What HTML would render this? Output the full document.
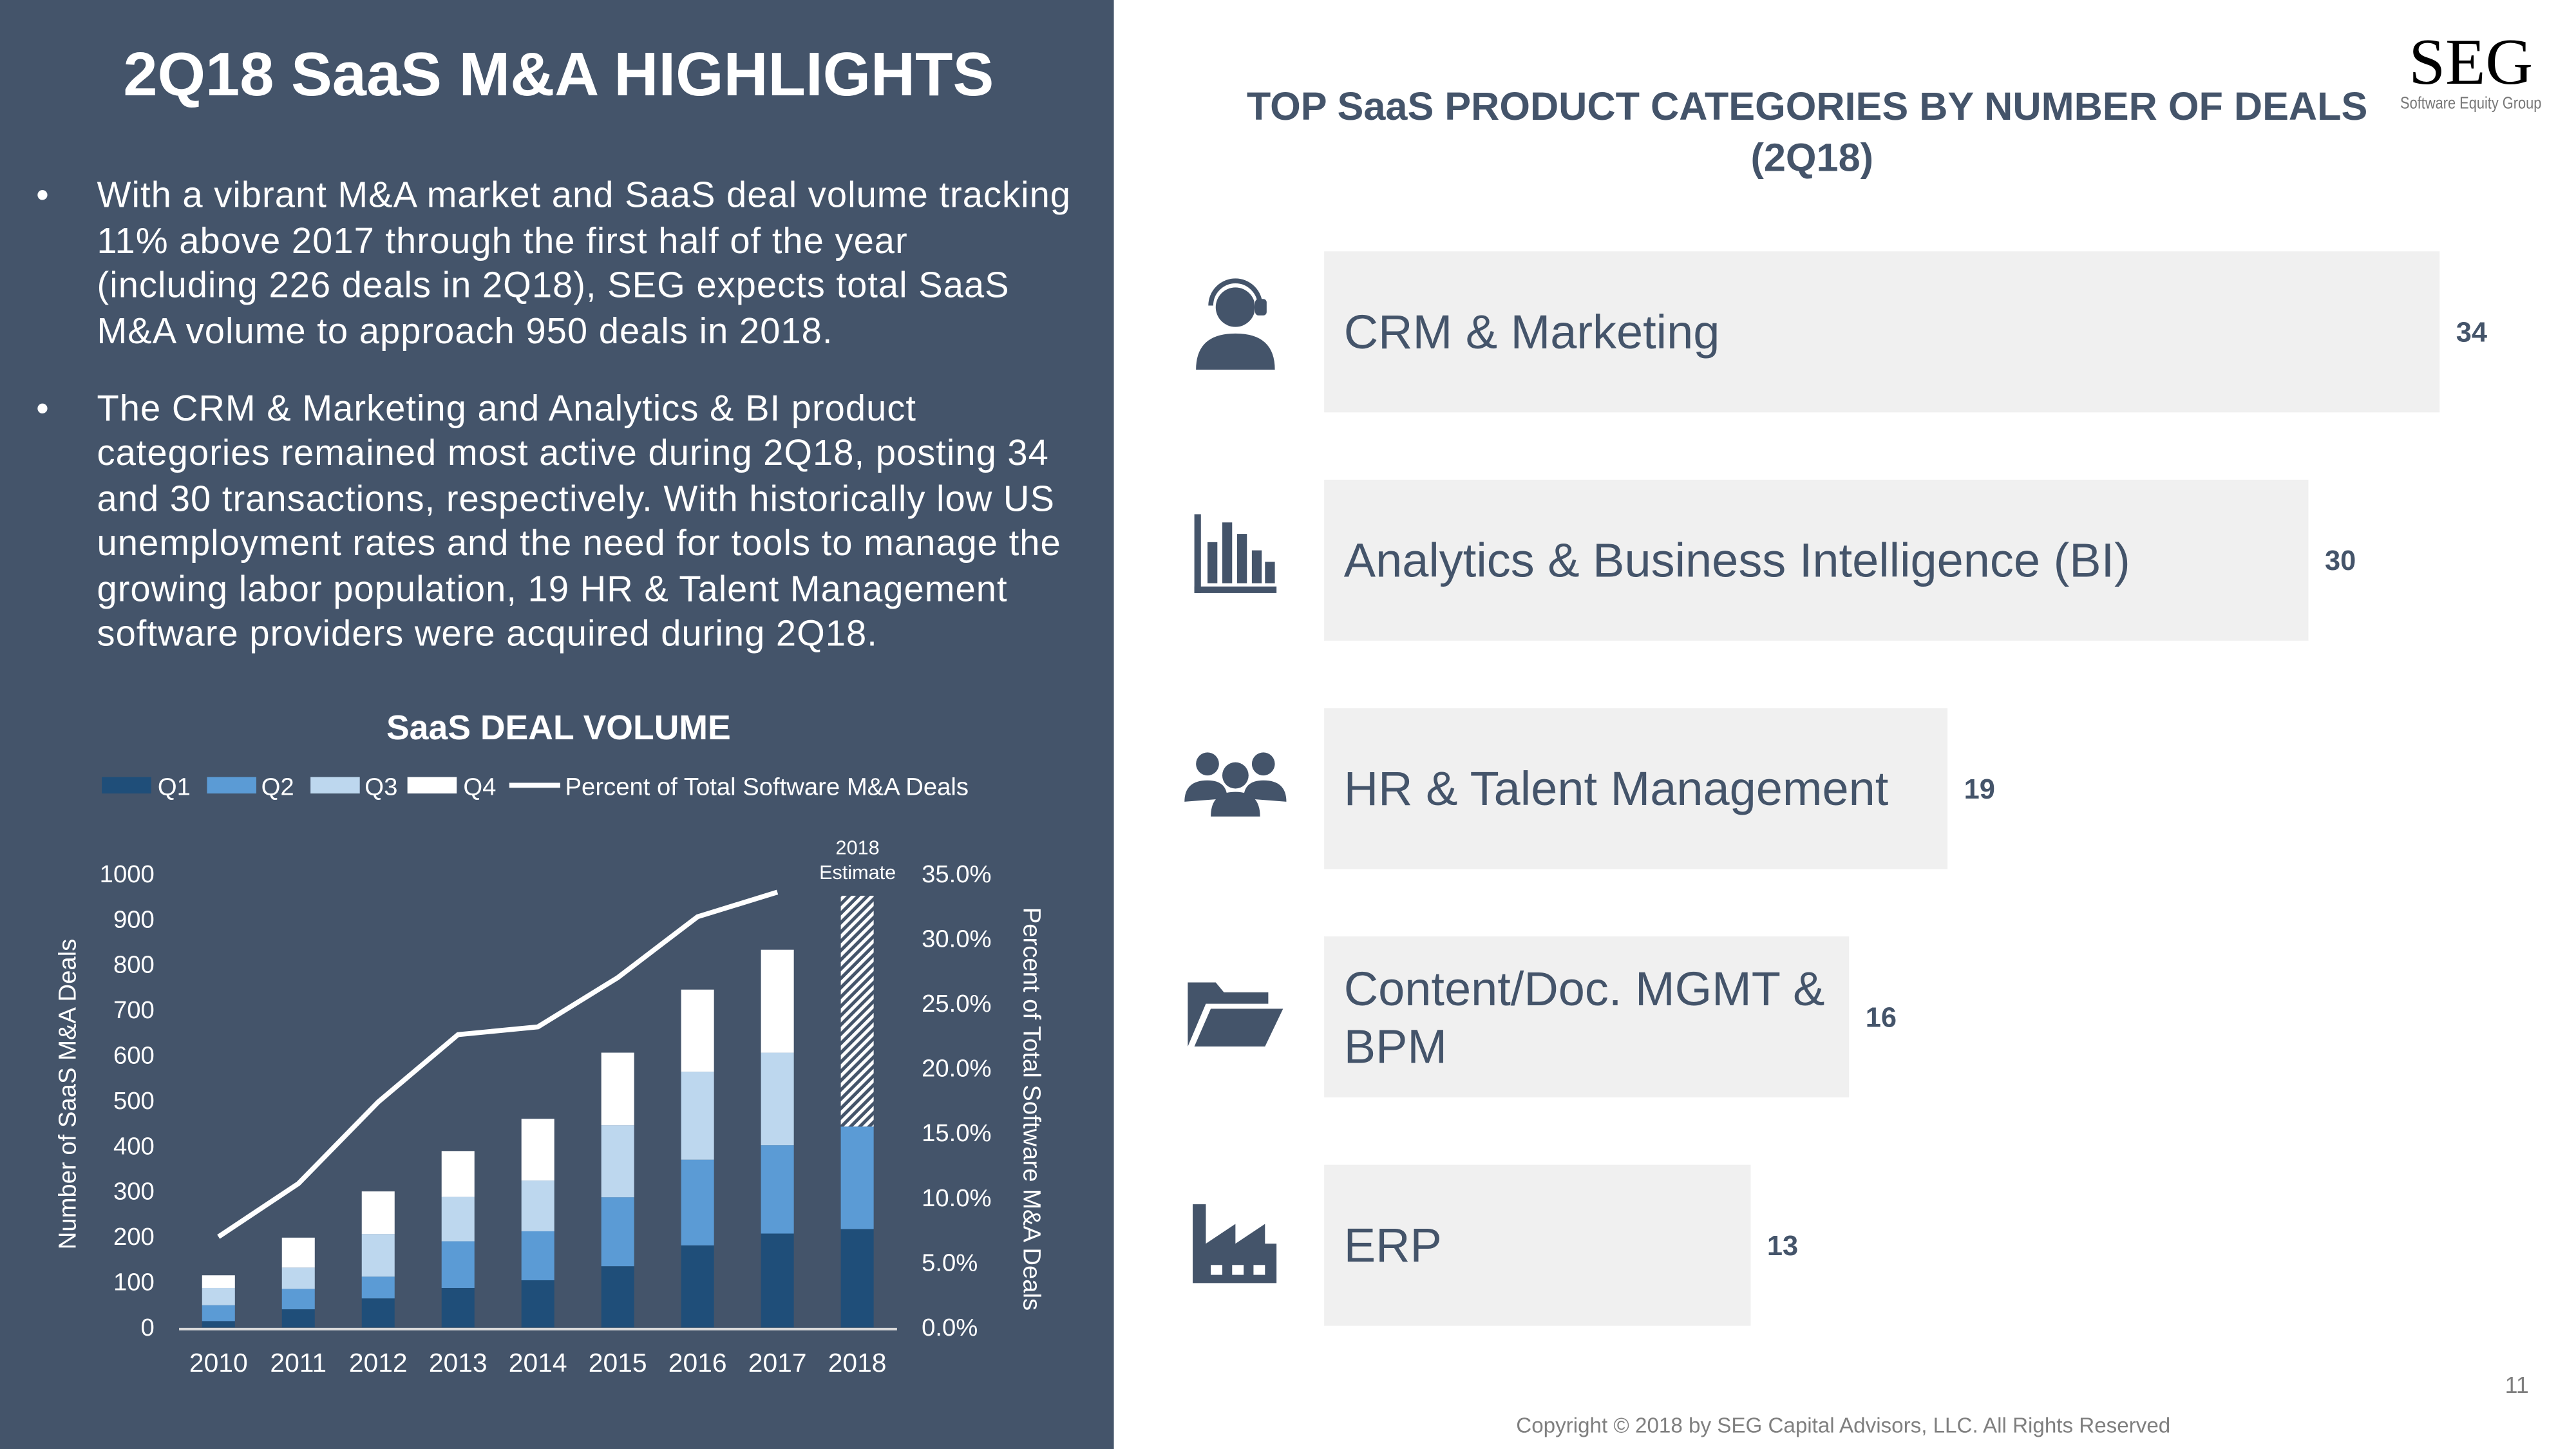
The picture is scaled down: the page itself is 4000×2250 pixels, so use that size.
<!DOCTYPE html>
<html><head><meta charset="utf-8"><style>
html,body{margin:0;padding:0;width:4000px;height:2250px;overflow:hidden;background:#fff}
svg{display:block}
text{font-family:"Liberation Sans",sans-serif}
</style></head><body>
<svg id="page" width="4000" height="2250" viewBox="0 0 1568 882" xmlns="http://www.w3.org/2000/svg">
<defs>
<pattern id="hatch" patternUnits="userSpaceOnUse" width="4" height="4" patternTransform="rotate(45)">
<rect width="4" height="4" fill="#44546a"/><rect width="2" height="4" fill="#fff"/>
</pattern>
</defs>
<rect x="0" y="0" width="678" height="882" fill="#44546a"/>
<text x="340" y="58" text-anchor="middle" fill="#fff" font-size="37.5" font-weight="bold">2Q18 SaaS M&amp;A HIGHLIGHTS</text>
<g fill="#fff" font-size="22" letter-spacing="0.4">
<text x="22" y="126">•</text>
<text x="59" y="126">With a vibrant M&amp;A market and SaaS deal volume tracking</text>
<text x="59" y="154">11% above 2017 through the first half of the year</text>
<text x="59" y="181">(including 226 deals in 2Q18), SEG expects total SaaS</text>
<text x="59" y="209">M&amp;A volume to approach 950 deals in 2018.</text>
<text x="22" y="256">•</text>
<text x="59" y="256">The CRM &amp; Marketing and Analytics &amp; BI product</text>
<text x="59" y="283">categories remained most active during 2Q18, posting 34</text>
<text x="59" y="311">and 30 transactions, respectively. With historically low US</text>
<text x="59" y="338">unemployment rates and the need for tools to manage the</text>
<text x="59" y="366">growing labor population, 19 HR &amp; Talent Management</text>
<text x="59" y="393">software providers were acquired during 2Q18.</text>
</g>
<text x="340" y="450" text-anchor="middle" fill="#fff" font-size="21" font-weight="bold">SaaS DEAL VOLUME</text>
<g fill="#fff" font-size="15">
<rect x="62" y="473" width="30" height="10" fill="#1f4e79"/><text x="96" y="484">Q1</text>
<rect x="126" y="473" width="30" height="10" fill="#5b9bd5"/><text x="159" y="484">Q2</text>
<rect x="189" y="473" width="30" height="10" fill="#bdd7ee"/><text x="222" y="484">Q3</text>
<rect x="248" y="473" width="30" height="10" fill="#fff"/><text x="282" y="484">Q4</text>
<line x1="310" y1="478" x2="341" y2="478" stroke="#fff" stroke-width="3"/><text x="344" y="484">Percent of Total Software M&amp;A Deals</text>
</g>
<g id="chart"></g>
<text x="522" y="520" text-anchor="middle" fill="#fff" font-size="12">2018</text>
<text x="522" y="535" text-anchor="middle" fill="#fff" font-size="12">Estimate</text>
<text transform="translate(46,666) rotate(-90)" text-anchor="middle" fill="#fff" font-size="15">Number of SaaS M&amp;A Deals</text>
<text transform="translate(623,675) rotate(90)" text-anchor="middle" fill="#fff" font-size="15">Percent of Total Software M&amp;A Deals</text>

<text x="1504" y="51" text-anchor="middle" fill="#000" font-size="40" style="font-family:'Liberation Serif',serif">SEG</text>
<text x="1504" y="66" text-anchor="middle" fill="#777" font-size="10" textLength="86" lengthAdjust="spacingAndGlyphs">Software Equity Group</text>
<text x="1100" y="73" text-anchor="middle" fill="#44546a" font-size="24" font-weight="bold">TOP SaaS PRODUCT CATEGORIES BY NUMBER OF DEALS</text>
<text x="1103" y="104" text-anchor="middle" fill="#44546a" font-size="24" font-weight="bold">(2Q18)</text>
<g id="cats"></g>

<g fill="#44546a">
<g>
<circle cx="752" cy="187" r="12"/><path d="M728,225 Q728,203 752,203 Q776,203 776,225 Z"/>
<path d="M737,186 a15,15 0 0 1 30,0" fill="none" stroke="#44546a" stroke-width="3"/>
<rect x="764" y="182" width="7" height="10" rx="2"/>
</g>
<g>
<rect x="727" y="313" width="4" height="48"/><rect x="727" y="357" width="50" height="4"/>
<rect x="735" y="330" width="6" height="25"/><rect x="744" y="318" width="6" height="37"/><rect x="753" y="325" width="6" height="30"/><rect x="762" y="335" width="6" height="20"/><rect x="770" y="342" width="6" height="13"/>
</g>
<g>
<circle cx="735" cy="465" r="7"/><circle cx="769" cy="465" r="7"/><circle cx="752" cy="472" r="8"/>
<path d="M721,488 Q721,475 735,475 Q747,475 747,486 Z"/><path d="M757,486 Q757,475 769,475 Q783,475 783,488 Z"/>
<path d="M737,497 Q737,482 752,482 Q767,482 767,497 Z"/>
</g>
<g>
<path d="M723,637 L723,598 L740,598 L745,604 L772,604 L772,611 L734,611 Z"/>
<path d="M727,637 L737,614 L781,614 L770,637 Z"/>
</g>
<g>
<path d="M726,781 L726,733 L734,733 L734,757 L752,745 L752,757 L770,745 L770,757 L777,757 L777,781 Z"/>
<rect x="737" y="770" width="7" height="6" fill="#fff"/><rect x="750" y="770" width="7" height="6" fill="#fff"/><rect x="763" y="770" width="7" height="6" fill="#fff"/>
</g>
</g>

<text x="1532" y="848" text-anchor="middle" fill="#7f7f7f" font-size="14">11</text>
<text x="1122" y="872" text-anchor="middle" fill="#7f7f7f" font-size="13">Copyright © 2018 by SEG Capital Advisors, LLC. All Rights Reserved</text>
</svg>
<script>
const years = ["2010","2011","2012","2013","2014","2015","2016","2017","2018"];
const q1 = [14,40,64,87,104,135,181,207,217];
const q2 = [35,45,48,103,108,152,189,195,226];
const q3 = [38,47,94,98,112,159,194,204,0];
const q4 = [28,66,94,101,136,160,181,227,0];
const estimate = [0,0,0,0,0,0,0,0,509];
const pct = [7.0,11.1,17.4,22.6,23.2,27.0,31.7,33.6];
const yTicks = [0,100,200,300,400,500,600,700,800,900,1000];
const pTicks = ["0.0%","5.0%","10.0%","15.0%","20.0%","25.0%","30.0%","35.0%"];
const catNames = ["CRM & Marketing","Analytics & Business Intelligence (BI)","HR & Talent Management","Content/Doc. MGMT &|BPM","ERP"];
const catValues = [34,30,19,16,13];

const NS="http://www.w3.org/2000/svg";
function mk(tag,attrs,parent){const e=document.createElementNS(NS,tag);for(const k in attrs)e.setAttribute(k,attrs[k]);parent.appendChild(e);return e;}
const g=document.getElementById('chart');
const base=808, top0=532;
const yS=v=>base-(base-top0)*v/1000;
const pS=v=>base-(base-top0)*v/35;
const xS=i=>133+i*48.6;
const bw=20;
yTicks.forEach(t=>{const e=mk('text',{x:94,y:yS(t)+5,'text-anchor':'end',fill:'#fff','font-size':15},g);e.textContent=t;

});
pTicks.forEach((t,i)=>{const e=mk('text',{x:561,y:pS(i*5)+5,fill:'#fff','font-size':15},g);e.textContent=t;

});
const series=[[q1,'#1f4e79'],[q2,'#5b9bd5'],[q3,'#bdd7ee'],[q4,'#fff'],[estimate,'url(#hatch)']];
years.forEach((y,i)=>{let acc=0;
series.forEach(([arr,col],si)=>{const v=arr[i];if(!v)return;
const r=mk('rect',{x:xS(i)-bw/2,y:yS(acc+v),width:bw,height:yS(acc)-yS(acc+v),fill:col},g);


acc+=v;});
const t=mk('text',{x:xS(i),y:835,'text-anchor':'middle',fill:'#fff','font-size':16},g);t.textContent=y;


});
const ax=mk('line',{x1:109,y1:base+1,x2:546,y2:base+1,stroke:'#d9d9d9','stroke-width':1.5},g);


const pl=mk('polyline',{points:pct.map((p,i)=>xS(i)+','+pS(p)).join(' '),fill:'none',stroke:'#fff','stroke-width':3},g);



const c=document.getElementById('cats');
const unit=679/34;
catNames.forEach((n,i)=>{const y0=153+i*139;
const r=mk('rect',{x:806,y:y0,width:catValues[i]*unit,height:98,fill:'#f0f0f0'},c);


const parts=n.split('|');
parts.forEach((p,j)=>{const t=mk('text',{x:818,y:y0+49+10+(parts.length>1?(j*35-17):0),fill:'#44546a','font-size':29},c);t.textContent=p;

});
const v=mk('text',{x:806+catValues[i]*unit+10,y:y0+55,fill:'#44546a','font-size':17,'font-weight':'bold'},c);v.textContent=catValues[i];


});
</script>
</body></html>
